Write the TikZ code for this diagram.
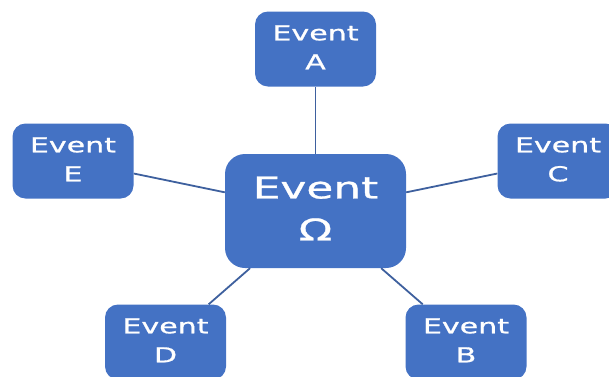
\documentclass[tikz,border=0pt]{standalone}
\usepackage{fontspec}
\usepackage{graphicx}
\setmainfont{DejaVu Sans}[FakeBold=0.8]
\definecolor{boxblue}{RGB}{68,114,196}
\definecolor{lineblue}{RGB}{62,96,158}
\newcommand{\evtxt}[4]{\raisebox{-1.5pt}{\scalebox{1.46}[1]{\fontsize{#3}{#4}\selectfont\begin{tabular}{@{}c@{}}#1\\#2\end{tabular}}}}
\tikzset{
  evbox/.style={draw=none, fill=boxblue, text=white, rounded corners=13pt, inner sep=0pt,
    minimum width=121pt, minimum height=75pt},
  bigbox/.style={evbox, rounded corners=20pt, minimum width=181pt, minimum height=114pt},
  link/.style={draw=lineblue, line width=1.8pt}
}
\begin{document}
\begin{tikzpicture}[x=1pt,y=-1pt]
\useasboundingbox (0,0) rectangle (609,376);
\clip (0,0) rectangle (609,376);
\node[bigbox] (om) at (315.5,211) {\evtxt{Event}{Ω}{30}{42}};
\node[evbox] (a) at (315.5,49) {\evtxt{Event}{A}{20.6}{29}};
\node[evbox] (e) at (73,161) {\evtxt{Event}{E}{20.6}{29}};
\node[evbox] (c) at (558,161) {\evtxt{Event}{C}{20.6}{29}};
\node[evbox] (d) at (165.5,342) {\evtxt{Event}{D}{20.6}{29}};
\node[evbox] (b) at (466,342) {\evtxt{Event}{B}{20.6}{29}};
\draw[link] (om) -- (a);
\draw[link] (om) -- (e);
\draw[link] (om) -- (c);
\draw[link] (om) -- (d);
\draw[link] (om) -- (b);
\end{tikzpicture}
\end{document}
